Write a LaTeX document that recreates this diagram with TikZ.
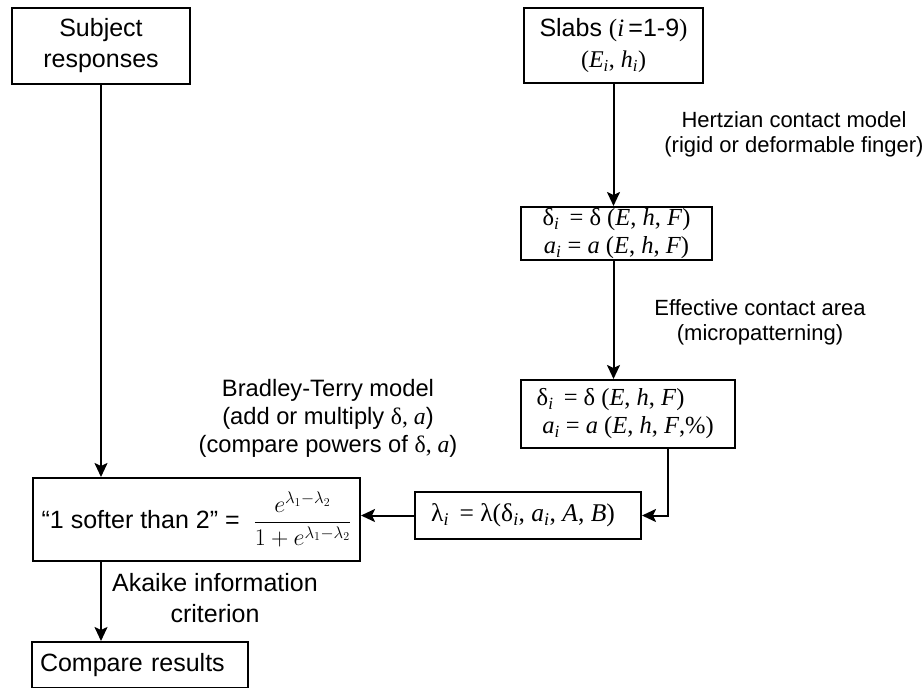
\RequirePackage{fix-cm}
\documentclass[tikz,border=0pt]{standalone}
\usepackage{amsmath}
\usepackage{fontspec}
\setmainfont{Liberation Sans}
\newfontfamily\serif{Liberation Serif}
\usetikzlibrary{arrows.meta}
\usetikzlibrary{positioning}

\newcommand{\sbi}{$_{\textit{i}}$}

\tikzset{
  box/.style={draw,line width=2pt,inner sep=0pt,align=center},
  mathbox/.style={box,font=\serif\fontsize{24.5}{28}\selectfont},
  lbl/.style={align=center,inner sep=0pt},
  arr/.style={line width=2pt,-{Stealth[length=14pt,width=13pt,inset=3pt]}}
}

\begin{document}
\begin{tikzpicture}[x=1pt,y=-1pt,font=\fontsize{25}{31}\selectfont]
\useasboundingbox (0,0) rectangle (924,688);

% boxes
\node[box,minimum width=178pt,minimum height=76pt](subj) at (101,46){Subject\\responses};
\node[box,minimum width=179pt,minimum height=75pt](slabs) at (613.5,45.5)
  {Slabs {\serif(\textit{i}\,}=1-9{\serif)}\\{\serif\fontsize{24}{28}\selectfont(\textit{E}\sbi, \textit{h}\sbi)}};
\node[mathbox,minimum width=191pt,minimum height=53pt](hertz) at (616.5,233.5)
  {δ\sbi\ \,= δ (\textit{E}, \textit{h}, \textit{F})\\\textit{a}\sbi\ = \textit{a} (\textit{E}, \textit{h}, \textit{F})};
\node[mathbox,minimum width=214pt,minimum height=68pt](effect) at (628,414)
  {δ\sbi\ \,= δ (\textit{E}, \textit{h}, \textit{F})\phantom{,\%)}\\\textit{a}\sbi\ = \textit{a} (\textit{E}, \textit{h}, \textit{F},\%)};
\node[mathbox,minimum width=226pt,minimum height=47pt,font=\serif\fontsize{25.5}{28}\selectfont](lam) at (528,515.5)
  {λ\sbi\ \,= λ(δ\sbi, \textit{a}\sbi, \textit{A}, \textit{B})\hspace{10pt}};
\node[box,minimum width=327pt,minimum height=83pt](bt) at (196.5,519.5)
  {“1 softer than 2” = \ {\fontsize{24}{28}\selectfont$\dfrac{e^{\lambda_1-\lambda_2}}{1+e^{\lambda_1-\lambda_2}}$}};
\node[box,minimum width=216pt,minimum height=46pt,align=left,text width=200pt](cmp) at (140,665)
  {Compare results};

% labels
\node[lbl,font=\fontsize{22}{25}\selectfont](hertzlbl) at (794,134.5){Hertzian contact model\\(rigid or deformable finger)};
\node[lbl,font=\fontsize{22}{25}\selectfont](efflbl) at (760,322.5){Effective contact area\\(micropatterning)};
\node[lbl,font=\fontsize{23.7}{28}\selectfont](btlbl) at (328,418){Bradley-Terry model\\(add or multiply {\serif δ, \textit{a}})\\(compare powers of {\serif δ, \textit{a}})};
\node[lbl](aiclbl) at (215,598.5){Akaike information\\criterion};

% connectors
\draw[arr] (subj.south) -- (subj.south |- bt.north);
\draw[arr] (slabs.south) -- (slabs.south |- hertz.north);
\draw[arr] (slabs.south |- hertz.south) -- (slabs.south |- effect.north);
\draw[arr] ([xshift=40pt]effect.south) |- (lam.east);
\draw[arr] (lam.west) -- (lam.west -| bt.east);
\draw[arr] (bt.south -| subj.south) -- (subj.south |- cmp.north);
\end{tikzpicture}
\end{document}
